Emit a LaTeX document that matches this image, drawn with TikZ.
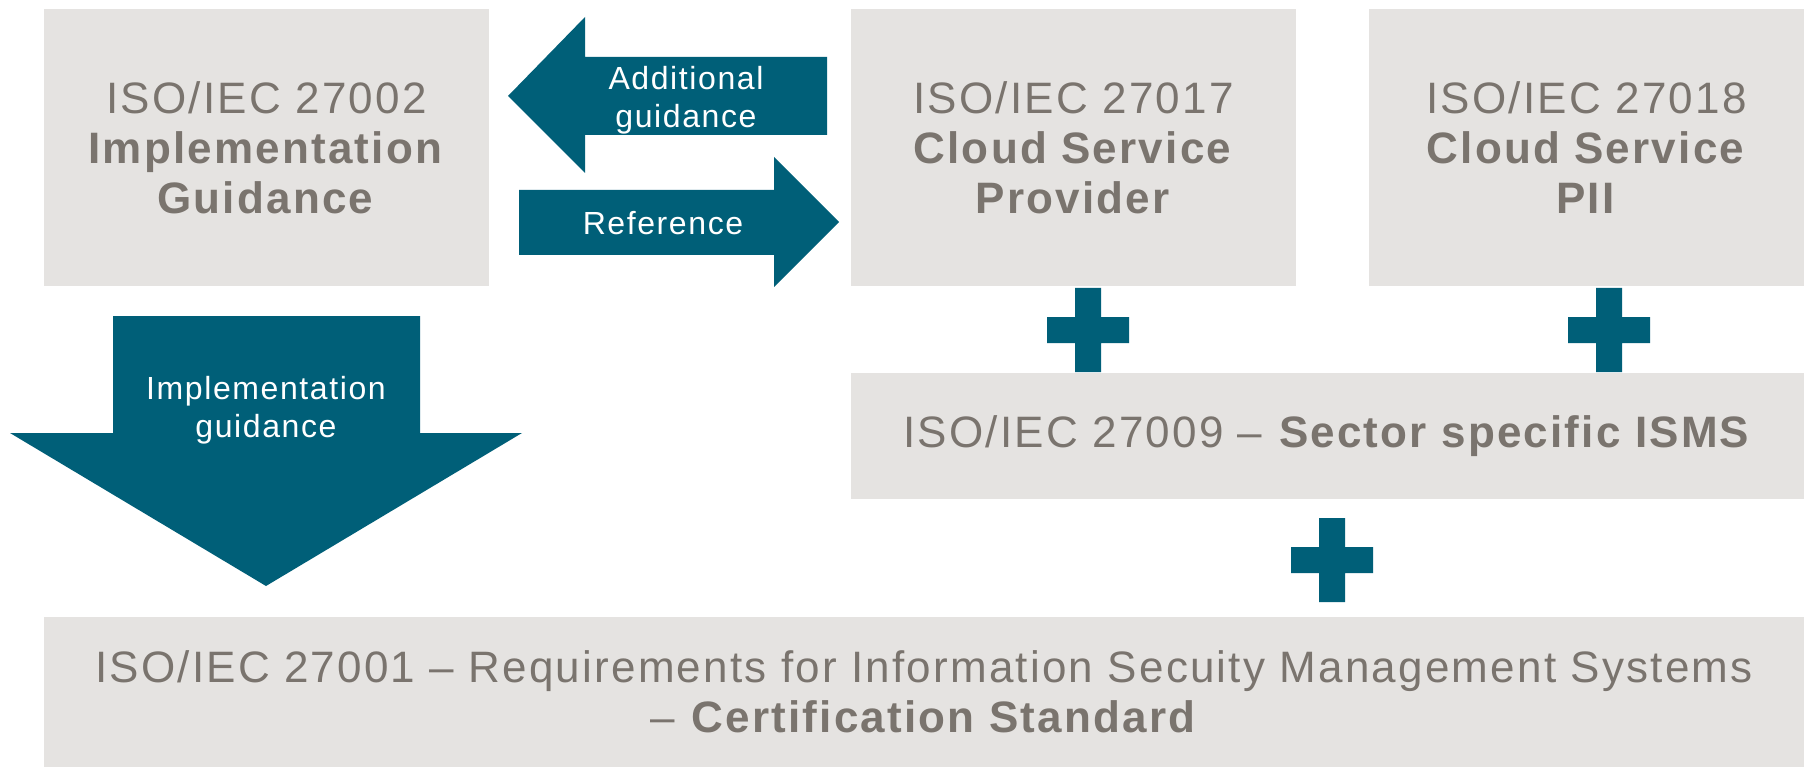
\documentclass[tikz,border=0pt]{standalone}
\usepackage{fontspec}
\setmainfont[LetterSpace=5]{Liberation Sans}
\usepackage{xcolor}
\usepackage{tikz}
\definecolor{boxgray}{HTML}{E5E3E1}
\definecolor{txtgray}{HTML}{7A746E}
\definecolor{isoteal}{HTML}{005F78}

\begin{document}
\begin{tikzpicture}[x=1pt,y=-1pt,
box/.style={fill=boxgray,text=txtgray,align=center,inner sep=0pt,font=\fontsize{44}{50}\selectfont},
lbl/.style={text=white,align=center,inner sep=0pt,font=\fontsize{32}{38}\selectfont},
blk/.style={fill=isoteal}
]
\useasboundingbox[fill=white] (0,0) rectangle (1804,767);
\node[box,minimum width=445pt,minimum height=277pt] (iso27002) at (266.5,147.5) {ISO/IEC 27002\\\textbf{Implementation}\\\textbf{Guidance}};
\node[box,minimum width=445pt,minimum height=277pt] (iso27017) at (1073.5,147.5) {ISO/IEC 27017\\\textbf{Cloud Service}\\\textbf{Provider}};
\node[box,minimum width=435pt,minimum height=277pt] (iso27018) at (1586.5,147.5) {ISO/IEC 27018\\\textbf{Cloud Service}\\\textbf{PII}};
\node[box,minimum width=953pt,minimum height=126pt] (iso27009) at (1327.5,436) {ISO/IEC 27009 -- \textbf{Sector specific ISMS}};
\node[box,minimum width=1760pt,minimum height=150pt] (iso27001) at (924,692) {ISO/IEC 27001 -- Requirements for Information Secuity Management Systems\\-- \textbf{Certification Standard}};
\fill[blk] (827,57) -- (585,57) -- (585,17) -- (508,96) -- (585,173) -- (585,135) -- (827,135) -- cycle;
\fill[blk] (519,190) -- (774,190) -- (774,157) -- (839,222) -- (774,287) -- (774,255) -- (519,255) -- cycle;
\fill[blk] (113,316) -- (420,316) -- (420,433) -- (522,433) -- (266,586) -- (10,433) -- (113,433) -- cycle;
\node[lbl] (addguid) at (686,100) {Additional\\guidance};
\node[lbl] (refer) at (663,223) {Reference};
\node[lbl] (implguid) at (266,410) {Implementation\\guidance};
\foreach \x/\y in {1088/330,1609/330,1332/560}
  \fill[blk] (\x-13,\y-42) rectangle (\x+13,\y+42) (\x-41,\y-13) rectangle (\x+41,\y+13);
\end{tikzpicture}
\end{document}
